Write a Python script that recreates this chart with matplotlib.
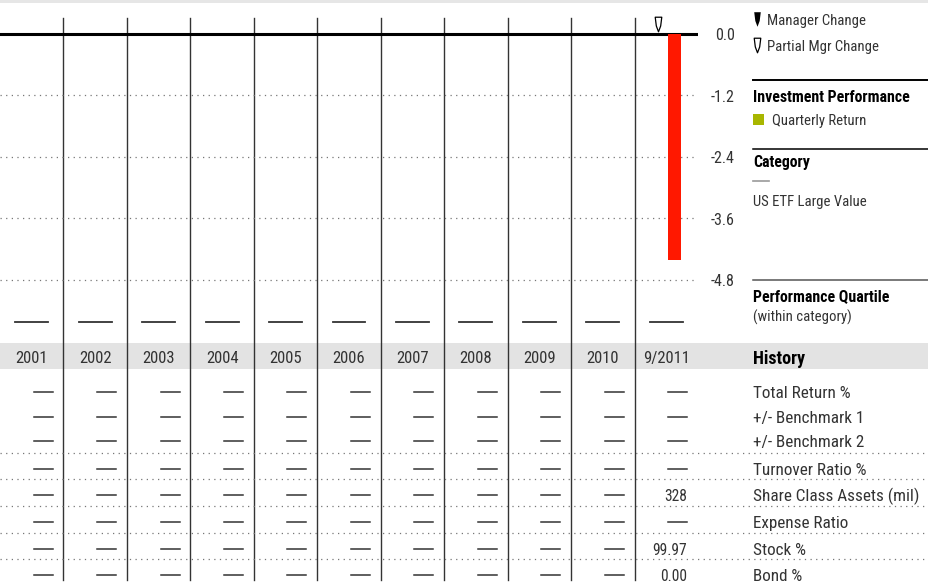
import matplotlib
matplotlib.use('Agg')
import matplotlib.pyplot as plt
from matplotlib.transforms import blended_transform_factory, offset_copy
from matplotlib.path import Path

plt.rcParams['font.family'] = ['Roboto Condensed', 'Roboto', 'DejaVu Sans']

# Calendar columns and the single quarterly return on record
years = ['2001', '2002', '2003', '2004', '2005', '2006',
         '2007', '2008', '2009', '2010', '9/2011']
return_quarter = [10.625]          # Q3 2011, in year-column units
quarterly_return = [-4.40]
partial_mgr_change = [10.375]      # Q2 2011
y_ticks = [0.0, -1.2, -2.4, -3.6, -4.8]

# History table (None = no data)
row_labels = ['Total Return %', '+/- Benchmark 1', '+/- Benchmark 2',
              'Turnover Ratio %', 'Share Class Assets (mil)', 'Expense Ratio',
              'Stock %', 'Bond %']
total_return = [None, None, None, None, None, None, None, None, None, None, None]
benchmark_1 = [None, None, None, None, None, None, None, None, None, None, None]
benchmark_2 = [None, None, None, None, None, None, None, None, None, None, None]
turnover = [None, None, None, None, None, None, None, None, None, None, None]
share_assets = [None, None, None, None, None, None, None, None, None, None, '328']
expense_ratio = [None, None, None, None, None, None, None, None, None, None, None]
stock_pct = [None, None, None, None, None, None, None, None, None, None, '99.97']
bond_pct = [None, None, None, None, None, None, None, None, None, None, '0.00']
table_rows = [total_return, benchmark_1, benchmark_2, turnover,
              share_assets, expense_ratio, stock_pct, bond_pct]

W, H = 929, 583
fig = plt.figure(figsize=(W / 100, H / 100), dpi=100)

# background axes in pixel coordinates
bg = fig.add_axes([0, 0, 1, 1])
bg.set_xlim(0, W)
bg.set_ylim(H, 0)
bg.axis('off')

# chart axes: x in year columns, y in percent
chart_left, chart_right = 0, 698
px_top, px_bottom, px_zero, px_per_unit = 18, 340, 34, 51.25
ax = fig.add_axes([chart_left / W, 1 - px_bottom / H,
                   (chart_right - chart_left) / W, (px_bottom - px_top) / H])
ax.set_xlim(0, len(years))
ax.set_ylim(-(px_bottom - px_zero) / px_per_unit, (px_zero - px_top) / px_per_unit)
ax.axis('off')
ax.patch.set_visible(False)

col_x = blended_transform_factory(ax.transData, bg.transData)
val_y = blended_transform_factory(bg.transData, ax.transData)

# text sits a touch lower than the plain centre alignment gives
def nudge(tr):
    return offset_copy(tr, fig=fig, y=-1.2, units='points')

txt_bg = nudge(bg.transData)
txt_col = nudge(col_x)
txt_val = nudge(val_y)

ink = '#333333'
fs_legend = 10.6
fs_head = 11.4
fs_table = 12.3

# bands
bg.axhspan(0, 3, color='#e6e6e6', lw=0)
bg.axhspan(343, 369, color='#e3e3e3', lw=0)

# column separators
for i in range(1, len(years)):
    bg.plot([i, i], [18, 580], color='#333333', lw=1, transform=col_x, zorder=2)

# gridlines and zero line
for t in y_ticks[1:]:
    ax.axhline(t, color='#777777', lw=0.9, ls=(0, (1, 3.5)), zorder=1)
ax.axhline(0, color='black', lw=2.2, zorder=3)
for t in y_ticks:
    bg.text(735, t, f'{t:.1f}', ha='right', va='center', fontsize=11.5,
            color=ink, transform=txt_val)

# quarterly return bar
bar_color = '#ff1800'
ax.bar(return_quarter, quarterly_return, width=0.2, color=bar_color, zorder=4)

# manager change markers
mgr_mark = Path([(-0.45, 1), (0.45, 1), (0.3, -0.2), (0, -1), (-0.3, -0.2), (-0.45, 1)],
                [Path.MOVETO, Path.LINETO, Path.LINETO, Path.LINETO, Path.LINETO, Path.CLOSEPOLY])
bg.scatter(partial_mgr_change, [24], marker=mgr_mark, s=110, facecolor='white',
           edgecolor='black', lw=0.9, transform=col_x, zorder=5)

# performance quartile placeholders
for i in range(len(years)):
    bg.plot([i + 0.5 - 0.26, i + 0.5 + 0.26], [322, 322], color=ink, lw=1.3,
            transform=col_x)

# year labels
for i, y in enumerate(years):
    bg.text(i + 0.5, 357, y, ha='center', va='center', fontsize=12,
            color=ink, transform=txt_col)

# history table
row_y = [392, 417, 441, 469, 495, 522, 549, 575]
for yy in [453, 479, 506, 533, 559]:
    bg.plot([0, W], [yy, yy], color='#777777', lw=0.9, ls=(0, (1, 3.5)))
pad = 0.17
for row, yy in zip(table_rows, row_y):
    for i, v in enumerate(row):
        right = i + 1 - pad
        if v is None:
            bg.plot([right - 0.3, right], [yy, yy], color=ink, lw=1.1, transform=col_x)
        else:
            bg.text(right, yy, v, ha='right', va='center', fontsize=11.2,
                    color=ink, transform=txt_col)

# legend / side panel
lx = 753
bg.scatter([757], [19], marker=mgr_mark, s=110, color='black', lw=0)
bg.text(767, 19, 'Manager Change', va='center', fontsize=fs_legend, color=ink,
        transform=txt_bg)
bg.scatter([757], [45], marker=mgr_mark, s=110, facecolor='white',
           edgecolor='black', lw=0.9)
bg.text(767, 45, 'Partial Mgr Change', va='center', fontsize=fs_legend, color=ink,
        transform=txt_bg)

bg.plot([lx, W], [80, 80], color='black', lw=1.4)
bg.text(lx, 96, 'Investment Performance', va='center', fontsize=fs_head,
        fontweight='bold', color='black', transform=txt_bg)
bg.add_patch(plt.Rectangle((lx, 114), 11, 11, color='#a8b600', lw=0))
bg.text(772, 119, 'Quarterly Return', va='center', fontsize=fs_legend, color=ink,
        transform=txt_bg)

bg.plot([lx, W], [149, 149], color='black', lw=1.1)
bg.text(lx, 161, 'Category', va='center', fontsize=fs_head, fontweight='bold',
        color='black', transform=txt_bg)
bg.plot([lx, lx + 16], [181, 181], color='#999999', lw=1.2)
bg.text(lx, 200, 'US ETF Large Value', va='center', fontsize=fs_legend, color=ink,
        transform=txt_bg)

bg.plot([lx, W], [280, 280], color='#555555', lw=1.1)
bg.text(lx, 295, 'Performance Quartile', va='center', fontsize=fs_head,
        fontweight='bold', color='black', transform=txt_bg)
bg.text(lx, 316, '(within category)', va='center', fontsize=fs_legend, color=ink,
        transform=txt_bg)

bg.text(lx, 357, 'History', va='center', fontsize=13, fontweight='bold',
        color='black', transform=txt_bg)
for lab, yy in zip(row_labels, row_y):
    bg.text(lx, yy, lab, va='center', fontsize=fs_table, color=ink, transform=txt_bg)

fig.savefig('out.png', dpi=100, facecolor='white')
plt.close(fig)
